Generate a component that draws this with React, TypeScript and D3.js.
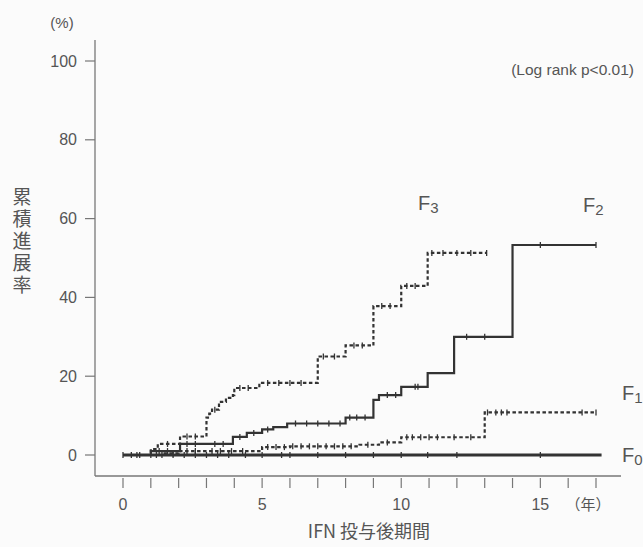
import React, { useRef, useEffect } from "react";
import { select, scaleLinear, line, curveStepAfter } from "d3";

// step points [years, %]
const f3Steps: [number, number][] = [
  [0, 0], [1.0, 1.5], [1.25, 2.8], [2.05, 4.7], [3.0, 9.5], [3.1, 10.5], [3.2, 11.5],
  [3.45, 13.5], [3.7, 14.5], [3.95, 15.2], [4.0, 17.0], [4.9, 18.3], [7.0, 25.0],
  [8.0, 27.8], [9.0, 37.8], [10.0, 42.9], [10.95, 51.3],
];
const f2Steps: [number, number][] = [
  [0, 0], [1.0, 1.0], [2.05, 2.8], [3.95, 4.6], [4.45, 5.6], [5.0, 6.5], [5.4, 7.1],
  [5.9, 8.0], [8.0, 9.5], [9.0, 14.0], [9.2, 15.2], [10.0, 17.3], [10.95, 20.8],
  [11.9, 30.0], [14.0, 53.3],
];
const f1Steps: [number, number][] = [
  [0, 0], [1.5, 0.4], [2.0, 1.0], [5.0, 2.0], [6.0, 2.2], [8.5, 2.6], [9.2, 3.2],
  [10.0, 4.5], [13.0, 10.8],
];
const f0Steps: [number, number][] = [[0, 0]];

const f3End = 13.07;
const f2End = 17.0;
const f1End = 17.0;
const f0End = 17.2;

// censored observations (years)
const f3Censor = [1.6, 2.3, 2.6, 3.3, 4.2, 4.5, 5.2, 5.6, 6.0, 6.4, 7.2, 7.6, 8.3, 8.6, 9.3, 9.6, 10.2, 10.5, 11.1, 11.5, 12.0, 12.5, 13.07];
const f2Censor = [0.3, 0.6, 1.3, 1.6, 2.3, 2.6, 3.3, 3.6, 4.2, 4.7, 5.2, 6.2, 6.6, 7.0, 7.4, 7.8, 8.15, 8.4, 8.7, 9.5, 9.8, 10.5, 10.6, 12.35, 13.0, 15.0, 17.0];
const f1Censor = [1.2, 1.8, 2.3, 2.6, 3.2, 3.5, 3.9, 4.3, 5.2, 5.5, 5.8, 6.1, 6.4, 6.7, 7.0, 7.3, 7.6, 7.9, 8.2, 8.8, 9.5, 10.2, 10.4, 10.7, 11.0, 11.3, 11.9, 12.5, 13.1, 13.4, 13.6, 13.8, 16.5, 17.0];
const f0Censor = [0.0, 0.5, 1.0, 1.4, 1.8, 2.2, 2.6, 3.0, 3.4, 3.8, 4.4, 5.0, 5.7, 6.0, 7.0, 8.0, 9.0, 10.0, 10.95, 12.0, 15.0];

const yTicks = [0, 20, 40, 60, 80, 100];
const xTicks = Array.from({ length: 18 }, (_, i) => i);
const xTickLabels = [0, 5, 10, 15];
const yLabel = "累積進展率";

const valueAt = (steps: [number, number][], t: number) => {
  let v = 0;
  steps.forEach((s) => {
    if (s[0] <= t) v = s[1];
  });
  return v;
};

const App = () => {
  const ref = useRef<SVGSVGElement>(null);
  const width = 643;
  const height = 547;

  useEffect(() => {
    const svg = select(ref.current);
    svg.selectAll("*").remove();

    const font = "'Liberation Sans', Arial, sans-serif";
    const cjk = "'Noto Sans CJK JP', sans-serif";
    const axisColor = "#777";
    const textColor = "#555";
    const ink = "#333";

    const xScale = scaleLinear().domain([0, 17]).range([123, 596]);
    const yScale = scaleLinear().domain([0, 100]).range([455, 61]);

    svg.append("rect").attr("width", width).attr("height", height).attr("fill", "#fbfbfb");

    // axes
    svg.append("line")
      .attr("x1", 95).attr("x2", 95).attr("y1", 40).attr("y2", 476)
      .attr("stroke", axisColor).attr("stroke-width", 1.3);
    svg.append("line")
      .attr("x1", 95).attr("x2", 621).attr("y1", 476).attr("y2", 476)
      .attr("stroke", axisColor).attr("stroke-width", 1.3);

    yTicks.forEach((t) => {
      svg.append("line")
        .attr("x1", 85).attr("x2", 95)
        .attr("y1", yScale(t)).attr("y2", yScale(t))
        .attr("stroke", axisColor).attr("stroke-width", 1.2);
      svg.append("text")
        .attr("x", 77).attr("y", yScale(t))
        .attr("dy", "0.35em")
        .attr("text-anchor", "end")
        .style("font-family", font).style("font-size", "16px")
        .attr("fill", textColor)
        .text(t);
    });

    xTicks.forEach((t) => {
      svg.append("line")
        .attr("x1", xScale(t)).attr("x2", xScale(t))
        .attr("y1", 478).attr("y2", 488)
        .attr("stroke", axisColor).attr("stroke-width", 1.2);
    });
    xTickLabels.forEach((t) => {
      svg.append("text")
        .attr("x", xScale(t)).attr("y", 510)
        .attr("text-anchor", "middle")
        .style("font-family", font).style("font-size", "16px")
        .attr("fill", textColor)
        .text(t);
    });
    svg.append("text")
      .attr("x", 588).attr("y", 510)
      .attr("text-anchor", "middle")
      .style("font-family", cjk).style("font-size", "15px")
      .attr("fill", textColor)
      .text("（年）");

    // axis titles
    svg.append("text")
      .attr("x", 369).attr("y", 538)
      .attr("text-anchor", "middle")
      .style("font-family", cjk).style("font-size", "18px")
      .attr("fill", textColor)
      .text("IFN 投与後期間");

    svg.append("text")
      .attr("x", 22).attr("y", 187)
      .style("writing-mode", "vertical-rl")
      .style("letter-spacing", "3px")
      .style("font-family", cjk).style("font-size", "19px")
      .attr("fill", textColor)
      .text(yLabel);

    svg.append("text")
      .attr("x", 62).attr("y", 23)
      .attr("dy", "0.35em")
      .attr("text-anchor", "middle")
      .style("font-family", font).style("font-size", "15px")
      .attr("fill", textColor)
      .text("(%)");

    svg.append("text")
      .attr("x", 634).attr("y", 70)
      .attr("dy", "0.35em")
      .attr("text-anchor", "end")
      .style("font-family", font).style("font-size", "15.5px")
      .attr("fill", textColor)
      .text("(Log rank p<0.01)");

    // curves
    const stepLine = line<[number, number]>()
      .x((d) => xScale(d[0]))
      .y((d) => yScale(d[1]))
      .curve(curveStepAfter);

    const curves = [
      { steps: f0Steps, end: f0End, censor: f0Censor, dash: null, w: 3 },
      { steps: f1Steps, end: f1End, censor: f1Censor, dash: "3.5,2.5", w: 2.2 },
      { steps: f2Steps, end: f2End, censor: f2Censor, dash: null, w: 2.2 },
      { steps: f3Steps, end: f3End, censor: f3Censor, dash: "3.5,2.5", w: 2.2 },
    ];

    curves.forEach((c) => {
      const pts: [number, number][] = [...c.steps, [c.end, c.steps[c.steps.length - 1][1]]];
      svg.append("path")
        .datum(pts)
        .attr("fill", "none")
        .attr("stroke", ink)
        .attr("stroke-width", c.w)
        .attr("stroke-dasharray", c.dash)
        .attr("d", stepLine);

      svg.selectAll(null)
        .data(c.censor)
        .enter()
        .append("line")
        .attr("x1", (t) => xScale(t))
        .attr("x2", (t) => xScale(t))
        .attr("y1", (t) => yScale(valueAt(c.steps, t)) - 3)
        .attr("y2", (t) => yScale(valueAt(c.steps, t)) + 3)
        .attr("stroke", ink)
        .attr("stroke-width", 1.3);
    });

    // group labels
    const groupLabels = [
      { name: "F", sub: "3", x: 418, y: 210 },
      { name: "F", sub: "2", x: 583, y: 212 },
      { name: "F", sub: "1", x: 622, y: 400 },
      { name: "F", sub: "0", x: 622, y: 462 },
    ];
    groupLabels.forEach((g) => {
      const t = svg.append("text")
        .attr("x", g.x).attr("y", g.y)
        .style("font-family", font).style("font-size", "20px")
        .attr("fill", textColor);
      t.append("tspan").text(g.name);
      t.append("tspan").attr("dy", 3).style("font-size", "15px").text(g.sub);
    });
  }, []);

  return (
    <svg
      ref={ref}
      width={width}
      height={height}
      style={{ position: "absolute", left: 0, top: 0 }}
    />
  );
};

export default App;
